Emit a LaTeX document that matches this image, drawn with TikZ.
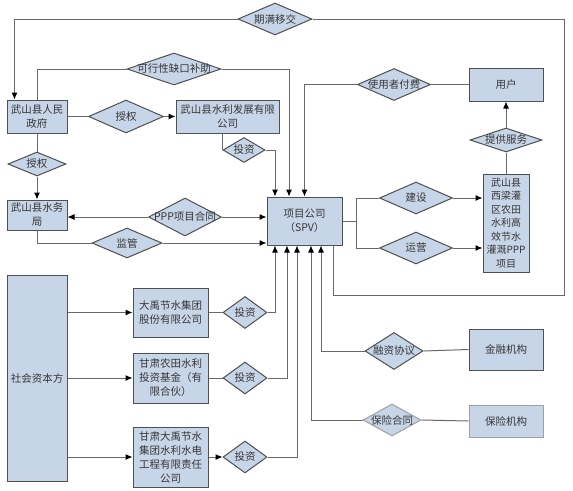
\documentclass[tikz,border=0pt]{standalone}
\usepackage{fontspec}
\setmainfont{Noto Sans CJK SC}
\usepackage{xcolor}
\usetikzlibrary{arrows.meta, shapes.geometric}
\definecolor{boxfill}{RGB}{198,213,231}
\definecolor{boxline}{RGB}{80,80,80}
\definecolor{lightline}{RGB}{160,160,160}
\definecolor{linegray}{RGB}{105,105,105}
\definecolor{txtgray}{RGB}{55,55,55}
\tikzset{
  box/.style={rectangle, draw=boxline, fill=boxfill, line width=1pt, align=center, inner sep=1pt,
    text=txtgray, font=\fontsize{10.5}{14}\selectfont},
  dia/.style={diamond, draw=boxline, fill=boxfill, line width=1pt, inner sep=0pt,
    label={[text=txtgray, font=\fontsize{10.5}{13}\selectfont]center:#1}},
  conn/.style={draw=linegray, line width=1pt},
  arr/.style={conn, -{Latex[length=7pt,width=6pt,color=black]}}
}

\begin{document}
\begin{tikzpicture}[x=1pt,y=-1pt]
    \useasboundingbox (0,0) rectangle (573,490);
    % boxes
    \node[box, minimum width=60, minimum height=33] (gov) at (37,116.5) {武山县人民\\政府};
    \node[box, minimum width=103, minimum height=33] (fz) at (227.5,116.5) {武山县水利发展有限\\公司};
    \node[box, minimum width=60, minimum height=30] (swj) at (37,215) {武山县水务\\局};
    \node[box, minimum width=75, minimum height=48] (spv) at (304.5,221) {项目公司\\（SPV）};
    \node[box, minimum width=74, minimum height=33] (user) at (506,84.5) {用户};
    \node[box, minimum width=46, minimum height=98, font=\fontsize{10}{13.5}\selectfont] (proj) at (506,223)
        {武山县\\西梁灌\\区农田\\水利高\\效节水\\灌溉PPP\\项目};
    \node[box, minimum width=74, minimum height=41] (jr) at (506,349.5) {金融机构};
    \node[box, minimum width=74, minimum height=32, draw=lightline] (bx) at (506,421) {保险机构};
    \node[box, minimum width=60, minimum height=206] (shzb) at (37,378) {社会资本方};
    \node[box, minimum width=75, minimum height=49] (dy1) at (170.5,312.5) {大禹节水集团\\股份有限公司};
    \node[box, minimum width=75, minimum height=50] (dy2) at (170.5,378) {甘肃农田水利\\投资基金（有\\限合伙）};
    \node[box, minimum width=75, minimum height=60] (dy3) at (170.5,457) {甘肃大禹节水\\集团水利水电\\工程有限责任\\公司};
    % diamonds
    \node[dia=期满移交, minimum width=74, minimum height=32] (qmyj) at (275,19) {};
    \node[dia=可行性缺口补助, minimum width=94, minimum height=32] (kxx) at (174,69) {};
    \node[dia=授权, minimum width=75, minimum height=33] (sq1) at (126,116.5) {};
    \node[dia=投资, minimum width=42, minimum height=25] (tz0) at (244,150) {};
    \node[dia=授权, minimum width=58, minimum height=24] (sq2) at (37,164) {};
    \node[dia=PPP项目合同, minimum width=73, minimum height=38] (ppp) at (185,217) {};
    \node[dia=监管, minimum width=70, minimum height=30] (jg) at (127,243) {};
    \node[dia=使用者付费, minimum width=73, minimum height=32] (syz) at (394,84.5) {};
    \node[dia=提供服务, minimum width=72, minimum height=24] (tgfw) at (506,140) {};
    \node[dia=建设, minimum width=73, minimum height=32] (js) at (416,198) {};
    \node[dia=运营, minimum width=73, minimum height=32] (yy) at (416,248) {};
    \node[dia=融资协议, minimum width=58, minimum height=37] (rz) at (394,351) {};
    \node[dia=保险合同, minimum width=58, minimum height=32, draw=lightline] (bxht) at (392,420) {};
    \node[dia=投资, minimum width=44, minimum height=32] (tz1) at (245,312.5) {};
    \node[dia=投资, minimum width=44, minimum height=32] (tz2) at (245,378) {};
    \node[dia=投资, minimum width=44, minimum height=32] (tz3) at (245,457) {};
    % connectors
    \coordinate (rb) at (564,295);
    \draw[conn] ([xshift=-9]spv.south east) |- (rb) |- (qmyj.east);
    \draw[arr] (qmyj.west) -| ([xshift=8]gov.north west);
    \draw[conn] (gov.north) |- (kxx.west);
    \draw[arr] (kxx.east) -| ([xshift=-15.5]spv.north);
    \draw[conn] (gov.east) -- (sq1.west);
    \draw[arr] (sq1.east) -- (fz.west);
    \draw[conn] (tz0.west |- fz.south) -- (tz0.west);
    \draw[arr] (tz0.east) -| ([xshift=-29.5]spv.north);
    \draw[conn] (gov.south) -- (sq2.north);
    \draw[arr] (sq2.south) -- (swj.north);
    \draw[arr] (ppp.west) -- (ppp.west -| swj.east);
    \draw[arr] (ppp.east) -- (ppp.east -| spv.west);
    \draw[conn] (swj.south) |- (jg.west);
    \draw[arr] (jg.east) -- (jg.east -| spv.west);
    \draw[conn] (syz.east) -- (user.west);
    \draw[arr] (syz.west) -| (spv.north);
    \draw[conn] (proj.north) -- (tgfw.south);
    \draw[arr] (tgfw.north) -- (user.south);
    \draw[conn] (spv.east) -- ++(14,0) coordinate (fork);
    \draw[conn] (fork) |- (js.west);
    \draw[conn] (fork) |- (yy.west);
    \draw[arr] (js.east) -- (js.east -| proj.west);
    \draw[arr] (yy.east) -- (yy.east -| proj.west);
    \draw[conn] (jr.west) -- (rz.east);
    \draw[arr] (rz.west) -| ([xshift=16.5]spv.south);
    \draw[conn] (bx.west) -- (bxht.east);
    \draw[arr] (bxht.west) -| ([xshift=6.5]spv.south);
    \foreach \i in {1,2,3}
        \draw[arr] (shzb.east |- dy\i) -- (dy\i.west);
    \draw[conn] (dy1.east) -- (tz1.west);
    \draw[conn] (dy2.east) -- (tz2.west);
    \draw[arr] (dy3.east) -- (tz3.west);
    \draw[arr] (tz1.east) -| ([xshift=-29.5]spv.south);
    \draw[arr] (tz2.east) -| ([xshift=-17.5]spv.south);
    \draw[arr] (tz3.east) -| ([xshift=-7.5]spv.south);
\end{tikzpicture}
\end{document}
